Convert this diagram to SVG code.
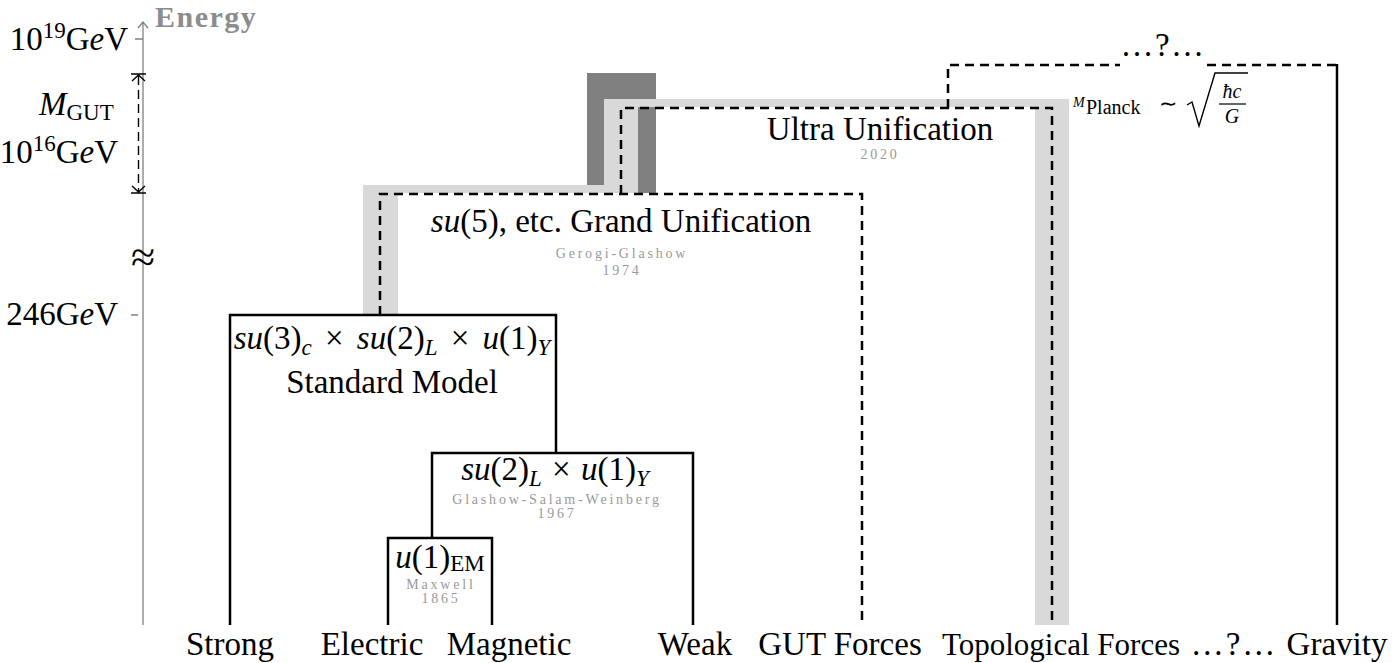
<svg xmlns="http://www.w3.org/2000/svg" width="1400" height="663" viewBox="0 0 1400 663">
<style>
text { font-family: "Liberation Serif", "Times New Roman", serif; fill: #000; }
.m { font-size: 33px; }
.c { text-anchor: middle; }
.e { text-anchor: end; }
.i { font-style: italic; }
.sb { font-size: 23px; }
.note { font-size: 14px; fill: #999; letter-spacing: 2.8px; text-anchor: middle; }
.solid { fill: none; stroke: #000; stroke-width: 2.5; }
.dash { fill: none; stroke: #000; stroke-width: 2.5; stroke-dasharray: 9 6; }
.axis { fill: none; stroke: #808080; stroke-width: 1.3; }
.thin { fill: none; stroke: #000; stroke-width: 1.4; }
</style>
<rect width="1400" height="663" fill="#fff"/>

<g id="bands">
  <rect x="587" y="73" width="69" height="120" fill="#808080"/>
  <path d="M363,315 V185 H604 V99 H1069 V625 H1035 V107 H638 V193 H398 V315 Z" fill="#d9d9d9"/>
</g>

<g id="energy-axis">
  <path class="axis" d="M143,625 V22 M138,28 L143,22 L148,28 M135,39 H143 M131,315 H138"/>
  <text x="155" y="27" font-size="30" font-weight="bold" style="fill:#8c8c8c" letter-spacing="1.5">Energy</text>
  <text class="m e" x="128" y="50">10<tspan class="sb" dy="-12">19</tspan><tspan dy="12">G</tspan><tspan class="i">e</tspan>V</text>
  <text class="m e" x="118" y="163">10<tspan class="sb" dy="-12">16</tspan><tspan dy="12">G</tspan><tspan class="i">e</tspan>V</text>
  <text class="m e" x="118" y="325">246G<tspan class="i">e</tspan>V</text>
  <text class="m" x="39" y="115"><tspan class="i">M</tspan><tspan class="sb" dy="5">GUT</tspan></text>
  <text class="c" x="143" y="272" font-size="44">≈</text>
  <path class="thin" d="M131,74 H146 M131,193 H146 M132,81 L138.5,75 L145,81 M132,186 L138.5,192 L145,186"/>
  <path class="thin" d="M138.5,76 V191" stroke-dasharray="9 5"/>
</g>

<g id="connectors">
  <path class="solid" d="M230,625 V315 H556 V453"/>
  <path class="solid" d="M432,538 V453 H693 V625"/>
  <path class="solid" d="M388,625 V538 H492 V625"/>
  <path class="solid" d="M1337,64 V625"/>
  <path class="dash" d="M380,315 V194 H862 V625"/>
  <path class="dash" d="M621,194 V108 H1052 V625"/>
  <path class="dash" d="M948,108 V65 H1120"/>
  <path class="dash" d="M1207,65 H1337"/>
</g>

<g id="node-sm">
  <text class="m c" x="392" y="349" word-spacing="5"><tspan class="i">su</tspan>(3)<tspan class="i sb" dy="6">c</tspan><tspan dy="-6"> × </tspan><tspan class="i">su</tspan>(2)<tspan class="i sb" dy="6">L</tspan><tspan dy="-6"> × </tspan><tspan class="i">u</tspan>(1)<tspan class="i sb" dy="6">Y</tspan></text>
  <text class="m c" x="392" y="393">Standard Model</text>
</g>

<g id="node-ew">
  <text class="m c" x="555" y="480" word-spacing="2"><tspan class="i">su</tspan>(2)<tspan class="i sb" dy="6">L</tspan><tspan dy="-6"> × </tspan><tspan class="i">u</tspan>(1)<tspan class="i sb" dy="6">Y</tspan></text>
  <text class="note" x="557" y="504">Glashow-Salam-Weinberg</text>
  <text class="note" x="557" y="518">1967</text>
</g>

<g id="node-em">
  <text class="m c" x="440" y="568"><tspan class="i">u</tspan>(1)<tspan class="sb" dy="3">EM</tspan></text>
  <text class="note" x="441" y="589">Maxwell</text>
  <text class="note" x="441" y="603">1865</text>
</g>

<g id="node-gut">
  <text class="m c" x="621" y="232"><tspan class="i">su</tspan>(5), etc. Grand Unification</text>
  <text class="note" x="622" y="258">Gerogi-Glashow</text>
  <text class="note" x="622" y="275">1974</text>
</g>

<g id="node-ultra">
  <text class="m c" x="880" y="140">Ultra Unification</text>
  <text class="note" x="880" y="159">2020</text>
</g>

<g id="node-top">
  <text class="m c" x="1163" y="56" letter-spacing="1.5">…?…</text>
</g>

<g id="node-planck">
  <text class="i" x="1073" y="107" font-size="14">M</text>
  <text x="1086" y="114" font-size="20">Planck</text>
  <text x="1159" y="111" font-size="22">∼</text>
  <path class="thin" d="M1187,105 L1192,102 L1199,126 L1215,73 H1248"/>
  <text class="i c" x="1232" y="98" font-size="20">ħc</text>
  <path d="M1219,104 H1246" stroke="#000" stroke-width="1.2"/>
  <text class="i c" x="1232" y="123" font-size="20">G</text>
</g>

<g id="leaf-strong"><text class="m c" x="230" y="655">Strong</text></g>
<g id="leaf-electric"><text class="m c" x="372" y="655">Electric</text></g>
<g id="leaf-magnetic"><text class="m c" x="509" y="655">Magnetic</text></g>
<g id="leaf-weak"><text class="m c" x="695" y="655">Weak</text></g>
<g id="leaf-gut"><text class="m c" x="840" y="655">GUT Forces</text></g>
<g id="leaf-topological"><text class="c" x="1061" y="655" font-size="31">Topological Forces</text></g>
<g id="leaf-unknown"><text class="m c" x="1234" y="655" letter-spacing="2">…?…</text></g>
<g id="leaf-gravity"><text class="m c" x="1337" y="655">Gravity</text></g>
</svg>
